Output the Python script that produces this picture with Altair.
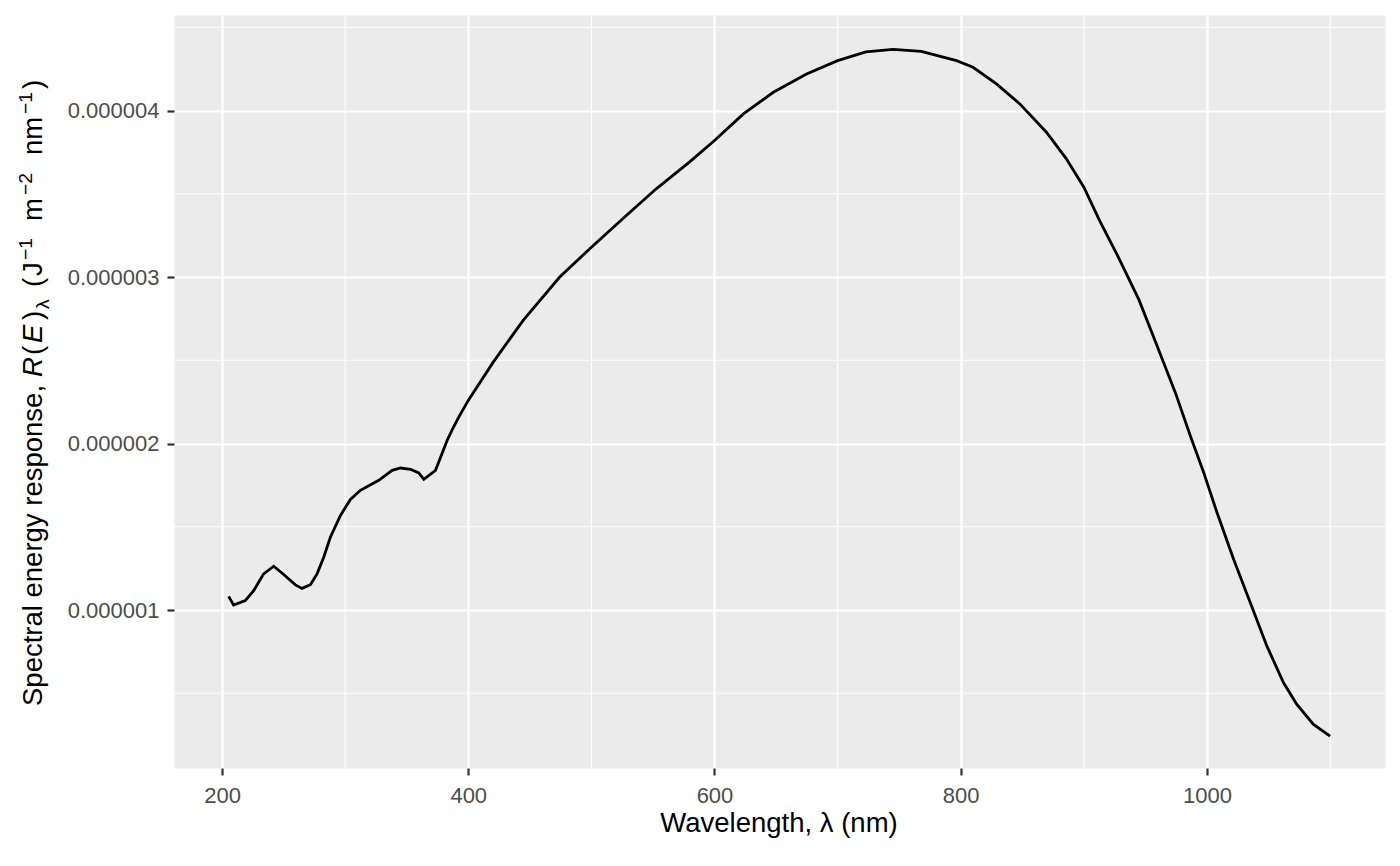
import altair as alt
import pandas as pd

# ---- data (response in units of 1e-6 J^-1 m^-2 nm^-1)
wavelength = [205.4, 209.4, 218.9, 225.7, 233.8, 242.0, 250.1, 259.6, 265.0, 271.8,
              277.2, 282.6, 288.0, 296.2, 304.3, 312.4, 327.3, 338.2, 345.0, 353.1,
              359.8, 363.9, 373.4, 382.9, 387.4, 392.4, 400.0, 420.3, 444.6, 474.3,
              500.0, 528.4, 552.7, 579.6, 600.0, 623.5, 647.8, 674.8, 700.0, 723.0,
              745.0, 768.0, 796.6, 810.0, 829.0, 848.0, 869.6, 885.8, 900.0, 912.7,
              928.0, 944.7, 959.6, 974.4, 986.6, 997.4, 1008.2, 1021.7, 1035.2, 1048.7,
              1062.2, 1073.0, 1086.5, 1100.0]
response_micro = [1.082, 1.030, 1.056, 1.116, 1.217, 1.263, 1.213, 1.151, 1.130, 1.152,
                  1.217, 1.317, 1.437, 1.568, 1.664, 1.719, 1.779, 1.839, 1.853, 1.845,
                  1.823, 1.785, 1.839, 2.020, 2.089, 2.160, 2.259, 2.489, 2.740, 3.000,
                  3.179, 3.370, 3.530, 3.690, 3.820, 3.980, 4.110, 4.220, 4.300, 4.352,
                  4.368, 4.356, 4.300, 4.260, 4.160, 4.040, 3.870, 3.710, 3.540, 3.340,
                  3.120, 2.864, 2.584, 2.304, 2.044, 1.824, 1.584, 1.304, 1.044, 0.783,
                  0.563, 0.433, 0.313, 0.243]

x_major = [200, 400, 600, 800, 1000]
x_minor = [300, 500, 700, 900, 1100]
y_major = [1e-6, 2e-6, 3e-6, 4e-6]
y_minor = [0.5e-6, 1.5e-6, 2.5e-6, 3.5e-6, 4.5e-6]

x_title = "Wavelength, λ (nm)"
# y title pieces: (text, start position along the rotated title, role, italic)
y_title_parts = [
    ("Spectral energy response,", 691, "base", False),
    ("R", 362, "base", True),
    ("(", 340, "base", False),
    ("E", 328, "base", True),
    (")", 305, "base", False),
    ("λ", 294, "sub", False),
    ("(", 272, "base", False),
    ("J", 261, "base", False),
    ("−1", 245, "sup", False),
    ("m", 206, "base", False),
    ("−2", 180, "sup", False),
    ("nm", 140, "base", False),
    ("−1", 99, "sup", False),
    (")", 74, "base", False),
]

df = pd.DataFrame({"wl": wavelength, "resp": [v * 1e-6 for v in response_micro]})

FONT = "Liberation Sans"
W, H = 1211, 753
xscale = alt.Scale(domain=[161, 1144.6], nice=False, zero=False)
yscale = alt.Scale(domain=[0.051e-6, 4.574e-6], nice=False, zero=False)

minor_x = alt.Chart(pd.DataFrame({"v": x_minor})).mark_rule(
    color="white", strokeWidth=1.1
).encode(x=alt.X("v:Q", scale=xscale))

minor_y = alt.Chart(pd.DataFrame({"v": y_minor})).mark_rule(
    color="white", strokeWidth=1.1
).encode(y=alt.Y("v:Q", scale=yscale))

line = alt.Chart(df).mark_line(color="black", strokeWidth=2.8).encode(
    x=alt.X("wl:Q", scale=xscale, title=None,
            axis=alt.Axis(values=x_major, grid=True, gridColor="white", gridWidth=2.2,
                          domain=False, ticks=True, tickColor="#333333", tickWidth=2.2,
                          tickSize=7, labelPadding=10, labelFont=FONT, labelFontSize=22,
                          labelColor="#4D4D4D", labelFlush=False, labelOverlap=False,
                          format="d")),
    y=alt.Y("resp:Q", scale=yscale, title=None,
            axis=alt.Axis(values=y_major, grid=True, gridColor="white", gridWidth=2.2,
                          domain=False, ticks=True, tickColor="#333333", tickWidth=2.2,
                          tickSize=7, labelPadding=8, labelFont=FONT, labelFontSize=22,
                          labelColor="#4D4D4D", labelFlush=False, labelOverlap=False,
                          format=".6f")),
)

one = alt.Data(values=[{}])
layers = [minor_x, minor_y, line]

layers.append(
    alt.Chart(one).mark_text(font=FONT, fontSize=27.5, color="black", align="center",
                             baseline="alphabetic")
    .encode(x=alt.value(605), y=alt.value(817), text=alt.value(x_title))
)

base_x = {"base": -132, "sup": -142, "sub": -125}
size = {"base": 27.5, "sup": 19.25, "sub": 19.25}
for txt, pos, role, italic in y_title_parts:
    kw = dict(font=FONT, fontSize=size[role], color="black", align="left",
              baseline="alphabetic", angle=270)
    if italic:
        kw["fontStyle"] = "italic"
    layers.append(
        alt.Chart(one).mark_text(**kw)
        .encode(x=alt.value(base_x[role]), y=alt.value(pos), text=alt.value(txt))
    )

chart = alt.layer(*layers).properties(
    width=W, height=H,
    background="white",
    autosize=alt.AutoSizeParams(type="none"),
    padding={"left": 166, "top": 7, "right": 7, "bottom": 90},
).configure_view(fill="#EBEBEB", strokeOpacity=0)

chart.save("out.html", embed_options={"renderer": "svg", "actions": False})
